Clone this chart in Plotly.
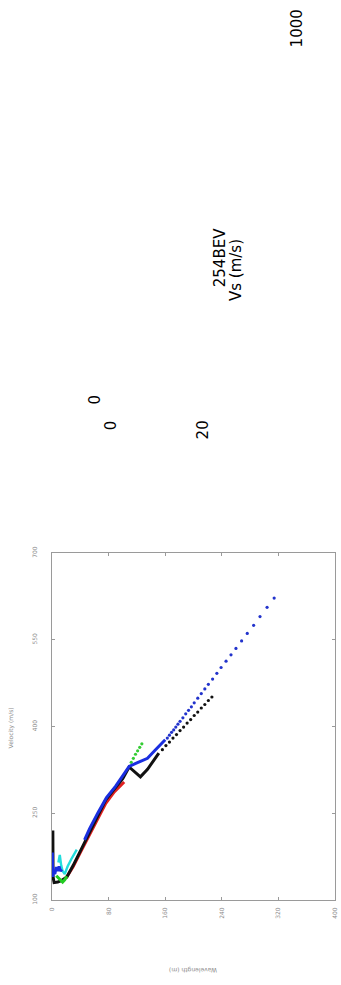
import plotly.graph_objects as go

# Wavelength (m) / phase velocity (m/s) picks per mode
black_line_wl = [1.2, 1.0, 1.5, 3, 8, 14, 21, 30, 40, 53, 65, 76, 88, 100, 109, 125, 135, 142, 151]
black_line_v = [220, 175, 140, 130, 131, 134, 140, 160, 185, 215, 245, 273, 292, 310, 330, 313, 326, 338, 354]
black_dot_wl = [156, 161, 166, 171, 176, 181, 186, 191, 196, 201, 206, 211, 216, 221, 226]
black_dot_v = [360, 367, 373, 380, 386, 393, 399, 406, 412, 419, 425, 432, 438, 445, 451]

red_wl = [20, 30, 40, 53, 65, 76, 88, 102]
red_v = [138, 158, 182, 212, 241, 267, 287, 304]

green_wl = [6, 10, 13, 15, 18, 21]
green_v = [142, 137, 133, 131, 135, 141]
green_dot_wl = [112, 115, 118, 121, 124, 127]
green_dot_v = [338, 345, 352, 358, 364, 370]

cyan_wl = [9, 11, 13, 15, 18, 22, 27, 31, 35]
cyan_v = [165, 178, 160, 150, 145, 158, 170, 178, 187]

# near-field picks and far-field branch of the blue mode (gap between them)
blue_line_wl = [0.5, 1, 2, 4, 6, 8, 10, 12, 14, None,
                46, 53, 65, 77, 90, 100, 109, 120, 135, 145, 160]
blue_line_v = [182, 140, 150, 145, 157, 150, 158, 150, 153, None,
               204, 223, 251, 277, 297, 315, 331, 337, 345, 358, 377]
blue_dot_wl = [163, 166, 169, 172, 175, 178, 181, 185, 189, 193, 197, 201, 206, 211, 216, 221,
               227, 233, 239, 246, 253, 260, 268, 276, 285, 294, 304, 314]
blue_dot_v = [380, 385, 390, 394, 399, 404, 409, 415, 422, 428, 434, 441, 449, 457, 465, 473,
              482, 492, 502, 513, 524, 535, 548, 561, 575, 590, 606, 622]

wl_ticks = [0, 80, 160, 240, 320, 400]
v_ticks = [100, 250, 400, 550, 700]

fig = go.Figure()


def line(x, y, color, width=3):
    fig.add_trace(go.Scatter(x=x, y=y, mode="lines", connectgaps=False,
                             line=dict(color=color, width=width), hoverinfo="skip"))


def dots(x, y, color, size=3.2):
    fig.add_trace(go.Scatter(x=x, y=y, mode="markers",
                             marker=dict(color=color, size=size, line=dict(width=0)),
                             hoverinfo="skip"))


line(red_wl, red_v, "#e02020")
line(black_line_wl, black_line_v, "#111111")
dots(black_dot_wl, black_dot_v, "#111111")
line(green_wl, green_v, "#22cc22")
dots(green_dot_wl, green_dot_v, "#33cc33")
line(cyan_wl, cyan_v, "#22dddd", 2.4)
line(blue_line_wl, blue_line_v, "#1a2ee0")
dots(blue_dot_wl, blue_dot_v, "#2233cc")

axis_common = dict(
    showline=True, mirror="ticks", linecolor="#9a9a9a", linewidth=1,
    ticks="inside", ticklen=3, tickcolor="#9a9a9a",
    showgrid=False, zeroline=False, tickangle=-90,
    tickfont=dict(size=6, color="#8a8a8a", family="DejaVu Sans"),
)

fig.update_xaxes(range=[0, 400], tickvals=wl_ticks, ticktext=[str(t) for t in wl_ticks],
                 ticklabelstandoff=4, **axis_common)
fig.update_yaxes(range=[100, 700], tickvals=v_ticks, ticktext=[str(t) for t in v_ticks],
                 ticklabelstandoff=12, **axis_common)

W, H = 341, 985
ML, MR, MT, MB = 52, 3, 553, 85
PW, PH = W - ML - MR, H - MT - MB


def px(x, y):
    # pixel position on the page -> paper coordinates of the plot area
    return (x - ML) / PW, (H - MB - y) / PH


def label(text, x, y, size, color="#000000", angle=-90):
    ax, ay = px(x, y)
    fig.add_annotation(text=text, x=ax, y=ay, xref="paper", yref="paper",
                       showarrow=False, textangle=angle, xanchor="center", yanchor="middle",
                       font=dict(size=size, color=color, family="DejaVu Sans"))


# chart axis titles
label("Velocity (m/s)", 11, 728, 6, "#8a8a8a")
label("Wavelength (m)", 195, 970, 6, "#8a8a8a", angle=180)

# profile header and scale labels
label("254BEV", 222, 258, 15)
label("Vs (m/s)", 238, 270, 15)
label("1000", 300, 28, 15)
label("0", 95, 400, 15)
label("0", 112, 425, 15)
label("20", 205, 430, 15)

fig.update_layout(
    width=W, height=H,
    margin=dict(l=ML, r=MR, t=MT, b=MB),
    paper_bgcolor="white", plot_bgcolor="white",
    showlegend=False,
)

fig.write_html("out.html", config={"displayModeBar": False})
